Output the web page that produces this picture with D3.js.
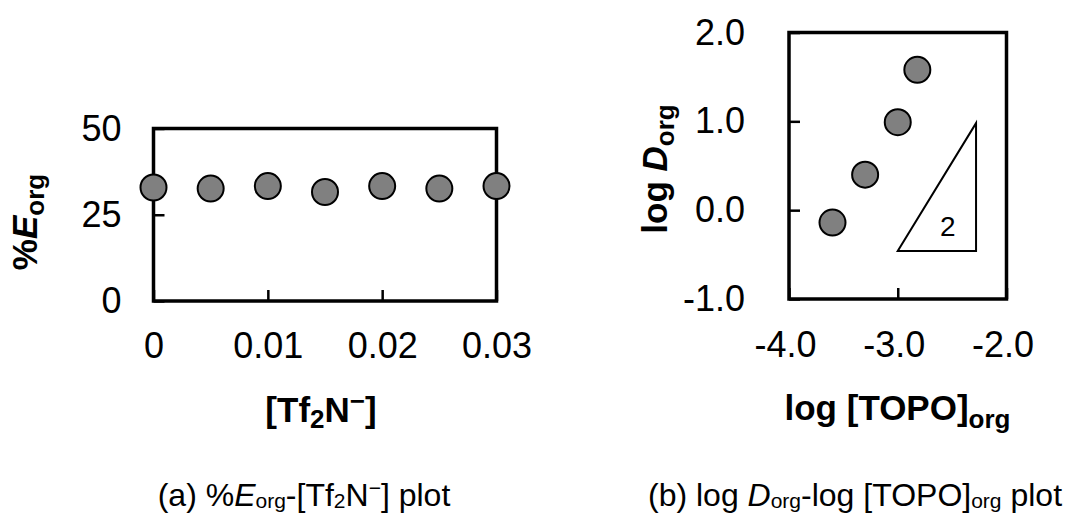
<!DOCTYPE html>
<html>
<head>
<meta charset="utf-8">
<script src="https://cdn.jsdelivr.net/npm/d3@7"></script>
<style>
  html, body { margin: 0; padding: 0; background: #fff; }
  svg { display: block; font-family: Arial, "Liberation Sans", sans-serif; }
</style>
</head>
<body>
<svg id="chart" width="1067" height="513"></svg>
<script>
// (a) extraction percentage versus Tf2N- concentration
const tf2nConc = [0, 0.005, 0.01, 0.015, 0.02, 0.025, 0.03];
const extractionPct = [32.9, 32.6, 33.3, 31.6, 33.3, 32.6, 33.3];
const aXTicks = [0, 0.01, 0.02, 0.03];
const aXTickLabels = ["0", "0.01", "0.02", "0.03"];
const aYTicks = [0, 25, 50];
const aYTickLabels = ["0", "25", "50"];

// (b) slope analysis: log D versus log [TOPO]
const logTopo = [-3.6, -3.3, -3.0, -2.82];
const logD = [-0.14, 0.40, 0.99, 1.58];
const bXTicks = [-4, -3, -2];
const bXTickLabels = ["-4.0", "-3.0", "-2.0"];
const bYTicks = [-1, 0, 1, 2];
const bYTickLabels = ["-1.0", "0.0", "1.0", "2.0"];
// slope-2 guide triangle, in data units
const slopeTriX = [-3.0, -2.28, -2.28];
const slopeTriY = [-0.46, -0.46, 0.98];
const slopeLabelX = -2.54;
const slopeLabelY = -0.18;
const slopeLabelText = "2";

const svg = d3.select("#chart");

const TICK_FONT = 36;
const TITLE_FONT = 35;
const TITLE_SUB = 26;
const CAP_FONT = 32;
const CAP_SUB = 21;

function styleAxis(g) {
  g.select(".domain").remove();
  g.attr("font-size", null).attr("font-family", null);
  g.selectAll(".tick line").attr("stroke", "#000").attr("stroke-width", 2.5);
  g.selectAll(".tick text").attr("fill", "#000").style("font-size", TICK_FONT + "px");
}

function drawPanel(cfg) {
  const x = d3.scaleLinear().domain(cfg.xDomain).range([cfg.left, cfg.right]);
  const y = d3.scaleLinear().domain(cfg.yDomain).range([cfg.bottom, cfg.top]);

  const gx = svg.append("g")
    .attr("transform", `translate(0,${cfg.bottom})`)
    .call(d3.axisBottom(x).tickValues(cfg.xTicks)
      .tickFormat((d, i) => cfg.xLabels[i])
      .tickSizeInner(-11).tickSizeOuter(0).tickPadding(cfg.xPad))
    .call(styleAxis);
  if (cfg.xLabelDx) gx.selectAll(".tick text").attr("dx", cfg.xLabelDx);

  svg.append("g")
    .attr("transform", `translate(${cfg.left},0)`)
    .call(d3.axisLeft(y).tickValues(cfg.yTicks)
      .tickFormat((d, i) => cfg.yLabels[i])
      .tickSizeInner(-11).tickSizeOuter(0).tickPadding(cfg.yPad))
    .call(styleAxis);

  // plot-area frame
  svg.append("rect")
    .attr("x", cfg.left).attr("y", cfg.top)
    .attr("width", cfg.right - cfg.left).attr("height", cfg.bottom - cfg.top)
    .attr("fill", "none").attr("stroke", "#000").attr("stroke-width", 3.5);

  return { x, y };
}

function drawMarkers(sc, xs, ys) {
  svg.append("g").selectAll("circle")
    .data(xs.map((v, i) => [v, ys[i]]))
    .join("circle")
    .attr("cx", d => sc.x(d[0]))
    .attr("cy", d => sc.y(d[1]))
    .attr("r", 13)
    .attr("fill", "#808080")
    .attr("stroke", "#000")
    .attr("stroke-width", 2);
}

// rich text helper: parts = [{t, italic, sub, sup}]
function richText(sel, parts, mainSize, subSize, subDy, supDy) {
  let shift = 0;
  parts.forEach(p => {
    const ts = sel.append("tspan").text(p.t);
    let target = 0;
    if (p.sub) target = subDy;
    if (p.sup) target = supDy;
    ts.attr("dy", target - shift);
    shift = target;
    ts.style("font-size", (p.sub || p.sup ? subSize : mainSize) + "px");
    if (p.italic) ts.style("font-style", "italic");
  });
}

// ---------- panel (a) ----------
const scA = drawPanel({
  left: 153.5, right: 496.5, top: 128.5, bottom: 301,
  xDomain: [0, 0.03], yDomain: [0, 50],
  xTicks: aXTicks, xLabels: aXTickLabels,
  yTicks: aYTicks, yLabels: aYTickLabels,
  xPad: 31, yPad: 32
});
drawMarkers(scA, tf2nConc, extractionPct);

// y title %E_org
richText(
  svg.append("text")
    .attr("transform", "translate(37,222) rotate(-90)")
    .attr("text-anchor", "middle").attr("font-weight", "bold").attr("fill", "#000"),
  [{ t: "%" }, { t: "E", italic: true }, { t: "org", sub: true }],
  TITLE_FONT, TITLE_SUB, 7, -13
);

// x title [Tf2N−]
richText(
  svg.append("text")
    .attr("x", 321).attr("y", 421.5)
    .attr("text-anchor", "middle").attr("font-weight", "bold").attr("fill", "#000"),
  [{ t: "[Tf" }, { t: "2", sub: true }, { t: "N" }, { t: "\u2212", sup: true }, { t: "]" }],
  TITLE_FONT, TITLE_SUB, 6, -12
);

// caption (a)
richText(
  svg.append("text")
    .attr("x", 304).attr("y", 506)
    .attr("text-anchor", "middle").attr("fill", "#000"),
  [{ t: "(a) %" }, { t: "E", italic: true }, { t: "org", sub: true }, { t: "-[Tf" },
   { t: "2", sub: true }, { t: "N" }, { t: "\u2212", sup: true }, { t: "] plot" }],
  CAP_FONT, CAP_SUB, 2, -11
);

// ---------- panel (b) ----------
const scB = drawPanel({
  left: 789, right: 1006.5, top: 32.5, bottom: 299,
  xDomain: [-4, -2], yDomain: [-1, 2],
  xTicks: bXTicks, xLabels: bXTickLabels,
  yTicks: bYTicks, yLabels: bYTickLabels,
  xPad: 32, yPad: 44, xLabelDx: -4
});

// slope-2 guide triangle
svg.append("path")
  .attr("d", d3.line()(slopeTriX.map((v, i) => [scB.x(v), scB.y(slopeTriY[i])])) + "Z")
  .attr("fill", "none").attr("stroke", "#000").attr("stroke-width", 2)
  .attr("stroke-linejoin", "miter");
svg.append("text")
  .attr("x", scB.x(slopeLabelX)).attr("y", scB.y(slopeLabelY))
  .attr("text-anchor", "middle").attr("dominant-baseline", "central")
  .attr("fill", "#000").style("font-size", "28px")
  .text(slopeLabelText);

drawMarkers(scB, logTopo, logD);

// y title log D_org
richText(
  svg.append("text")
    .attr("transform", "translate(667,169) rotate(-90)")
    .attr("text-anchor", "middle").attr("font-weight", "bold").attr("fill", "#000"),
  [{ t: "log " }, { t: "D", italic: true }, { t: "org", sub: true }],
  TITLE_FONT, TITLE_SUB, 7, -13
);

// x title log [TOPO]_org
richText(
  svg.append("text")
    .attr("x", 897.5).attr("y", 420)
    .attr("text-anchor", "middle").attr("font-weight", "bold").attr("fill", "#000"),
  [{ t: "log [TOPO]" }, { t: "org", sub: true }],
  TITLE_FONT, TITLE_SUB, 8, -12
);

// caption (b)
richText(
  svg.append("text")
    .attr("x", 855).attr("y", 506)
    .attr("text-anchor", "middle").attr("fill", "#000"),
  [{ t: "(b) log " }, { t: "D", italic: true }, { t: "org", sub: true },
   { t: "-log [TOPO]" }, { t: "org", sub: true }, { t: " plot" }],
  CAP_FONT, CAP_SUB, 2, -11
);
</script>
</body>
</html>
